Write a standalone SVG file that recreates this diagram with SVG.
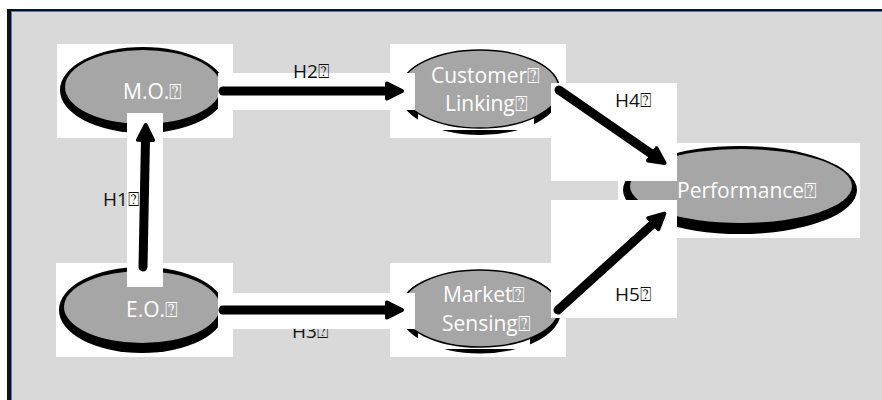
<svg xmlns="http://www.w3.org/2000/svg" width="882" height="400" viewBox="0 0 882 400">
  <style>
    .pad { fill: #ffffff; }
    .shadow { fill: #000000; }
    .body { fill: #a6a6a6; }
    .body-line { fill: #a6a6a6; stroke: #000000; stroke-width: 1.5; }
    .name { font-family: "Open Sans", "DejaVu Sans", sans-serif; font-size: 21px; fill: #ffffff; }
    .tag { font-family: "Open Sans", "DejaVu Sans", sans-serif; font-size: 19px; fill: #111111; }
    .wire { stroke: #000000; stroke-width: 9; stroke-linecap: round; fill: none; marker-end: url(#head); }
  </style>
  <defs>
    <marker id="head" markerUnits="userSpaceOnUse" markerWidth="24" markerHeight="24" viewBox="0 0 24 24" refX="3" refY="12" orient="auto">
      <path d="M2,4.5 L17,12 L2,19.5 Z" fill="#000000" stroke="#000000" stroke-width="4" stroke-linejoin="round"/>
    </marker>
  </defs>

  <!-- frame -->
  <g id="frame">
    <rect x="7" y="9" width="880" height="400" fill="#111111"/>
    <rect x="11.5" y="11.5" width="880" height="400" fill="#d9d9d9" stroke="#4a7ebb" stroke-width="1"/>
  </g>

  <!-- nodes -->
  <g id="node-mo">
    <rect class="pad" x="57" y="44" width="176" height="94"/>
    <ellipse class="shadow" cx="143" cy="90" rx="83" ry="43"/>
    <ellipse class="body" cx="143" cy="87" rx="78" ry="37"/>
    <text class="name" x="123" y="99">M.O.⍰</text>
  </g>

  <g id="node-eo">
    <rect class="pad" x="56" y="263" width="177" height="94"/>
    <ellipse class="shadow" cx="142" cy="310" rx="83" ry="43"/>
    <ellipse class="body" cx="142" cy="307" rx="78" ry="36"/>
    <text class="name" x="126" y="317">E.O.⍰</text>
  </g>

  <g id="node-customer">
    <rect class="pad" x="390" y="44" width="176" height="94"/>
    <ellipse class="shadow" cx="480" cy="92" rx="81" ry="43"/>
    <rect class="pad" x="418" y="46" width="116" height="84"/>
    <ellipse class="body-line" cx="480" cy="89" rx="79" ry="39"/>
    <text class="name" x="431" y="83">Customer⍰</text>
    <text class="name" x="445" y="111">Linking⍰</text>
  </g>

  <g id="node-market">
    <rect class="pad" x="390" y="263" width="176" height="94"/>
    <ellipse class="shadow" cx="480" cy="311" rx="81" ry="42.5"/>
    <rect class="pad" x="418" y="265" width="112" height="84"/>
    <ellipse class="body-line" cx="480" cy="308.5" rx="79" ry="38.5"/>
    <text class="name" x="443" y="302">Market⍰</text>
    <text class="name" x="442" y="331">Sensing⍰</text>
  </g>

  <g id="node-performance">
    <rect class="pad" x="618" y="143" width="242" height="95"/>
    <ellipse class="shadow" cx="740" cy="190" rx="117" ry="44"/>
    <ellipse class="body" cx="741" cy="186" rx="111" ry="37"/>
    <text class="name" x="677" y="198">Performance⍰</text>
  </g>

  <!-- connectors -->
  <g id="connectors">
    <g id="h1">
      <rect class="pad" x="127" y="113" width="36" height="174"/>
      <line class="wire" x1="143" y1="267" x2="145.5" y2="139"/>
      <text class="tag" x="103" y="206">H1⍰</text>
    </g>
    <g id="h2">
      <rect class="pad" x="218" y="73" width="197" height="37"/>
      <line class="wire" x1="223" y1="91" x2="388" y2="91"/>
      <text class="tag" x="293" y="78">H2⍰</text>
    </g>
    <g id="h3">
      <text class="tag" x="292" y="338">H3⍰</text>
      <rect class="pad" x="218" y="293" width="197" height="36"/>
      <line class="wire" x1="223" y1="310" x2="388" y2="310"/>
    </g>
    <g id="h4">
      <rect class="pad" x="551" y="83" width="126" height="98"/>
      <line class="wire" x1="559" y1="90" x2="653" y2="155"/>
      <text class="tag" x="615" y="107">H4⍰</text>
    </g>
    <g id="h5">
      <rect class="pad" x="551" y="200" width="126" height="118"/>
      <line class="wire" x1="558" y1="310" x2="654" y2="223"/>
      <text class="tag" x="615" y="301">H5⍰</text>
    </g>
  </g>
</svg>
